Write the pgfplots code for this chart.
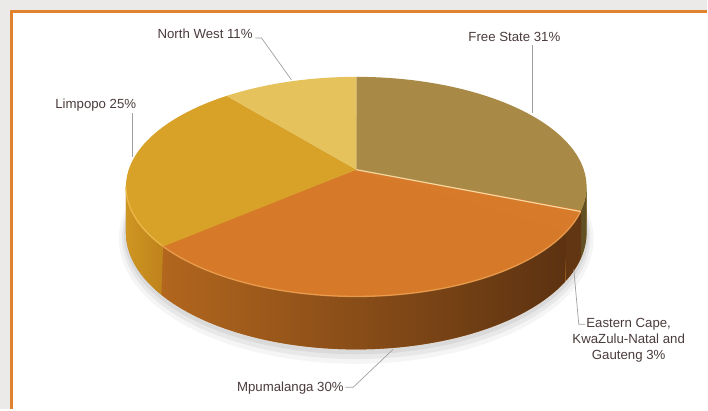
\documentclass[border=0pt]{standalone}
\usepackage{pgfplots}
\pgfplotsset{compat=1.18}
\usepackage{pgfplotstable}
\usepackage{fontspec}
\setmainfont{Liberation Sans}
\definecolor{txt}{RGB}{75,60,60}
\definecolor{frame}{RGB}{224,130,46}
\definecolor{bgout}{RGB}{236,234,232}
\definecolor{lead}{RGB}{160,160,160}
\definecolor{fsTop}{RGB}{168,138,70}
\definecolor{fsSide}{RGB}{96,80,34}
\definecolor{ecTop}{RGB}{215,123,43}
\definecolor{ecSide}{RGB}{98,54,19}
\definecolor{mpTop}{RGB}{214,122,42}
\definecolor{mpSideL}{RGB}{178,102,30}
\definecolor{mpSideR}{RGB}{92,50,17}
\definecolor{liTop}{RGB}{216,162,40}
\definecolor{liSideL}{RGB}{206,150,34}
\definecolor{liSideR}{RGB}{190,130,28}
\definecolor{nwTop}{RGB}{230,194,92}
\definecolor{rimMp}{RGB}{242,165,85}
\definecolor{rimLi}{RGB}{240,192,80}
\definecolor{cutHi}{RGB}{245,215,160}
\definecolor{sideBase}{RGB}{185,115,32}

\pgfplotstableread{
region pct
FreeState 31
EasternCape 3
Mpumalanga 30
Limpopo 25
NorthWest 11
}\piedata

\begin{document}
\begin{tikzpicture}
\pgfplotstablegetelem{0}{pct}\of\piedata \let\pA\pgfplotsretval
\pgfplotstablegetelem{1}{pct}\of\piedata \let\pB\pgfplotsretval
\pgfplotstablegetelem{2}{pct}\of\piedata \let\pC\pgfplotsretval
\pgfplotstablegetelem{3}{pct}\of\piedata \let\pD\pgfplotsretval
\pgfplotstablegetelem{4}{pct}\of\piedata \let\pE\pgfplotsretval
\pgfmathsetmacro\aO{90}
\pgfmathsetmacro\aA{\aO-3.6*\pA}
\pgfmathsetmacro\aB{\aA-3.6*\pB}
\pgfmathsetmacro\aC{\aB-3.6*\pC}
\pgfmathsetmacro\aD{\aC-3.6*\pD}
\pgfmathsetmacro\aE{\aD-3.6*\pE}
\pgfmathsetmacro\vR{-8.92}
\pgfmathsetmacro\vL{-171.08}
\pgfmathsetmacro\aAo{\aA+0.6}
\pgfmathsetmacro\aBo{\aB+0.6}
\pgfmathsetmacro\aCo{\aC+0.6}
\pgfmathsetmacro\xA{357+228*cos(\aA)/(1+0.155*sin(\aA))}
\pgfmathsetmacro\yA{170-107.4*sin(\aA)/(1+0.155*sin(\aA))}
\begin{axis}[width=708bp,height=410bp,scale only axis,
  xmin=0,xmax=708,ymin=0,ymax=410,y dir=reverse,
  axis lines=none,clip=false,
  declare function={
    px(\t)=357+228*cos(\t)/(1+0.155*sin(\t));
    py(\t,\h)=170+(\h-107.4*sin(\t))/(1+0.155*sin(\t));
    pxs(\t,\k)=357+(228+\k)*cos(\t)/(1+0.155*sin(\t));
    pys(\t,\h,\k)=170+(\h-(107.4+\k)*sin(\t))/(1+0.155*sin(\t));
    st(\s,\u,\v)=(\s<=1)*(\u+\s*(\v-\u))+(\s>1)*(\v-(\s-1)*(\v-\u));
    sh(\s)=(\s>1)*44.8;
  }]
% background and frame
\addplot[draw=none,fill=bgout] coordinates {(0,0) (708,0) (708,410) (0,410)} -- cycle;
\addplot[draw=none,fill=white] coordinates {(12,12) (708,12) (708,410) (12,410)} -- cycle;
\addplot[frame,line width=3bp] coordinates {(708,11.5) (11.5,11.5) (11.5,410)};
% shadow
\addplot[draw=none,fill=black,fill opacity=0.04,domain=0:360,samples=120] ({pxs(x,7)},{pys(x,50,7)}) -- cycle;
\addplot[draw=none,fill=black,fill opacity=0.05,domain=0:360,samples=120] ({pxs(x,4)},{pys(x,49,4)}) -- cycle;
\addplot[draw=none,fill=black,fill opacity=0.06,domain=0:360,samples=120] ({pxs(x,2)},{pys(x,47,2)}) -- cycle;
% base band under the side walls (hides seams)
\addplot[draw=none,fill=sideBase,domain=0:2,samples=241] ({px(st(x,\vL,\vR))},{py(st(x,\vL,\vR),sh(x))}) -- cycle;
% side walls
\addplot[draw=none,fill=fsSide,domain=0:2,samples=81] ({px(st(x,\aA,\vR))},{py(st(x,\aA,\vR),sh(x))}) -- cycle;
\addplot[draw=none,fill=ecSide,domain=0:2,samples=81] ({px(st(x,\aB,\aAo))},{py(st(x,\aB,\aAo),sh(x))}) -- cycle;
\addplot[draw=none,left color=mpSideL,right color=mpSideR,domain=0:2,samples=201] ({px(st(x,\aC,\aBo))},{py(st(x,\aC,\aBo),sh(x))}) -- cycle;
\addplot[draw=none,left color=liSideL,right color=liSideR,domain=0:2,samples=81] ({px(st(x,\vL,\aCo))},{py(st(x,\vL,\aCo),sh(x))}) -- cycle;
% top faces
\addplot[draw=none,fill=fsTop,domain=\aA:\aO,samples=100] ({px(x)},{py(x,0)}) -- (axis cs:357,170) -- cycle;
\addplot[draw=none,fill=ecTop,domain=\aB:\aAo,samples=30] ({px(x)},{py(x,0)}) -- (axis cs:357,170) -- cycle;
\addplot[draw=none,fill=mpTop,domain=\aC:\aBo,samples=100] ({px(x)},{py(x,0)}) -- (axis cs:357,170) -- cycle;
\addplot[draw=none,fill=liTop,domain=\aD:\aCo,samples=100] ({px(x)},{py(x,0)}) -- (axis cs:357,170) -- cycle;
\addplot[draw=none,fill=nwTop,domain=\aE:\aD,samples=60] ({px(x)},{py(x,0)}) -- (axis cs:357,170) -- cycle;
% highlights
\addplot[rimMp,line width=1.3bp,opacity=0.8,domain=\aC:\aA,samples=100] ({px(x)},{py(x,0)});
\addplot[rimLi,line width=1.3bp,opacity=0.8,domain=\vL:\aC,samples=30] ({px(x)},{py(x,0)});
\addplot[cutHi,line width=1.2bp] coordinates {(357,170) (\xA,\yA)};
% leader lines
\addplot[lead,line width=0.7bp] coordinates {(256,38) (262,38) (292,80)};
\addplot[lead,line width=0.7bp] coordinates {(533,45) (533,113)};
\addplot[lead,line width=0.7bp] coordinates {(133,113) (133,157)};
\addplot[lead,line width=0.7bp] coordinates {(346,388) (354,388) (394,350)};
\addplot[lead,line width=0.7bp] coordinates {(575,270) (580,325) (586,325)};
% labels
\begin{scope}[every node/.style={anchor=base,text=txt,font=\fontsize{13.3}{16}\selectfont,inner sep=0pt}]
\node at (axis cs:205.5,39) {North West 11\%};
\node at (axis cs:515.5,42) {Free State 31\%};
\node at (axis cs:96,109) {Limpopo 25\%};
\node at (axis cs:291,392) {Mpumalanga 30\%};
\node at (axis cs:630,328) {Eastern Cape,};
\node at (axis cs:630,344.3) {KwaZulu-Natal and};
\node at (axis cs:630,360.7) {Gauteng 3\%};
\end{scope}
\end{axis}
\end{tikzpicture}
\end{document}
